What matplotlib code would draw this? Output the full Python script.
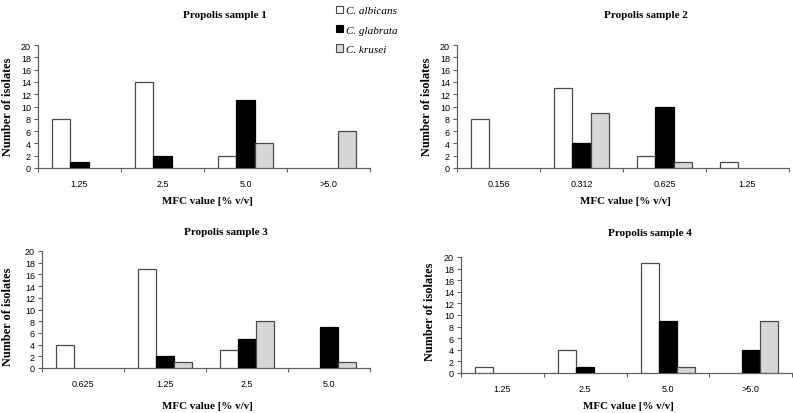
import matplotlib.pyplot as plt
from matplotlib.patches import Patch
import numpy as np

species = ["C. albicans", "C. glabrata", "C. krusei"]

titles = ["Propolis sample 1", "Propolis sample 2", "Propolis sample 3", "Propolis sample 4"]

labels1 = ["1.25", "2.5", "5.0", ">5.0"]
albicans1 = [8, 14, 2, 0]
glabrata1 = [1, 2, 11, 0]
krusei1 = [0, 0, 4, 6]

labels2 = ["0.156", "0.312", "0.625", "1.25"]
albicans2 = [8, 13, 2, 1]
glabrata2 = [0, 4, 10, 0]
krusei2 = [0, 9, 1, 0]

labels3 = ["0.625", "1.25", "2.5", "5.0"]
albicans3 = [4, 17, 3, 0]
glabrata3 = [0, 2, 5, 7]
krusei3 = [0, 1, 8, 1]

labels4 = ["1.25", "2.5", "5.0", ">5.0"]
albicans4 = [1, 4, 19, 0]
glabrata4 = [0, 1, 9, 4]
krusei4 = [0, 0, 1, 9]

fills = ["white", "black", "#d6d6d6"]
edge = "#4a4a4a"
W, H = 793, 414

serif = "Liberation Serif"
sans = "Liberation Sans"

fig = plt.figure(figsize=(W / 100, H / 100), dpi=100)


def px_axes(x0, y0, x1, y1):
    return fig.add_axes([x0 / W, 1 - y1 / H, (x1 - x0) / W, (y1 - y0) / H])


# axes boxes in pixels (left, top, right, bottom)
boxes = [(38, 46, 370, 169), (457, 46, 789, 169), (42, 252, 370, 369), (461, 258, 792, 374)]
title_pos = [(225, 15), (646, 15), (226, 233), (650, 234)]
ylab_pos = [(8, 107), (427, 107), (8, 317), (430, 312)]
xlab_pos = [(207, 202), (625, 202), (207, 407), (628, 407)]

panels = [
    (labels1, [albicans1, glabrata1, krusei1]),
    (labels2, [albicans2, glabrata2, krusei2]),
    (labels3, [albicans3, glabrata3, krusei3]),
    (labels4, [albicans4, glabrata4, krusei4]),
]

bw = 0.22
for k, (labels, series) in enumerate(panels):
    ax = px_axes(*boxes[k])
    x = np.arange(len(labels)) + 0.5
    for j, vals in enumerate(series):
        # empty bars get no outline, like the original
        lws = [0 if v == 0 else 0.9 for v in vals]
        ax.bar(x + (j - 1) * bw, vals, bw, color=fills[j],
               edgecolor="black" if j == 1 else edge, linewidth=lws, zorder=3)
    ax.set_xlim(0, len(labels))
    ax.set_ylim(0, 20)
    ax.set_yticks(range(0, 21, 2))
    ax.set_xticks(range(len(labels) + 1))
    ax.set_xticklabels([])
    ax.set_xticks(x, minor=True)
    ax.set_xticklabels(labels, minor=True, fontfamily=sans, fontsize=6.5)
    ax.tick_params(axis="x", which="minor", length=0, pad=8)
    ax.tick_params(axis="x", which="major", length=3, color="#606060")
    ax.tick_params(axis="y", length=3, color="#606060", pad=2, labelsize=6.5)
    for t in ax.get_yticklabels():
        t.set_fontfamily(sans)
    for s in ["top", "right"]:
        ax.spines[s].set_visible(False)
    for s in ["left", "bottom"]:
        ax.spines[s].set_color("#606060")
        ax.spines[s].set_linewidth(0.9)

    tx, ty = title_pos[k]
    fig.text(tx / W, 1 - ty / H, titles[k], ha="center", va="center",
             fontfamily=serif, fontweight="bold", fontsize=8)
    lx, ly = ylab_pos[k]
    fig.text(lx / W, 1 - ly / H, "Number of isolates", ha="center", va="center",
             rotation=90, fontfamily=serif, fontweight="bold", fontsize=8.8)
    xx, xy = xlab_pos[k]
    fig.text(xx / W, 1 - xy / H, "MFC value [% v/v]", ha="center", va="center",
             fontfamily=serif, fontweight="bold", fontsize=7.9)

handles = [Patch(facecolor=fills[j], edgecolor="black" if j == 1 else edge, linewidth=0.8)
           for j in range(3)]
fig.legend(handles, species, loc="upper left", bbox_to_anchor=(336 / W, 1 - 7 / H),
           frameon=False, handlelength=0.6, handleheight=0.6, handletextpad=0.3,
           labelspacing=0.88, borderpad=0, borderaxespad=0,
           prop={"family": serif, "style": "italic", "size": 8})

plt.savefig("out.png", dpi=100)
